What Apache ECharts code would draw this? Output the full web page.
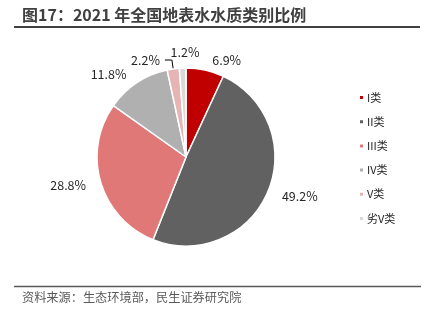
<!DOCTYPE html>
<html>
<head>
<meta charset="utf-8">
<script src="https://cdn.jsdelivr.net/npm/echarts@6/dist/echarts.min.js"></script>
<style>
  html, body { margin: 0; padding: 0; background: #fff; }
  #chart { width: 427px; height: 322px; }
</style>
</head>
<body>
<div id="chart"></div>
<script>
// Water quality categories and their shares (%)
const categories = ['I类', 'II类', 'III类', 'IV类', 'V类', '劣V类'];
const shares = [6.9, 49.2, 28.8, 11.8, 2.2, 1.2];
const colors = ['#C00000', '#616161', '#E07878', '#B0B0B0', '#E6B4B4', '#D9D9D9'];

const FONT = '"Noto Sans CJK SC", "Noto Sans", sans-serif';

const pieData = categories.map((name, i) => {
  const item = { name: name, value: shares[i], itemStyle: { color: colors[i] } };
  if (name === 'V类') {
    // small slice: pulled-out label with a visible leader line
    item.labelLine = { show: true, length: 9, length2: 7 };
  } else if (name === '劣V类') {
    item.labelLine = { show: false, length: 6, length2: 0 };
  }
  return item;
});

const chart = echarts.init(document.getElementById('chart'), null, { renderer: 'canvas' });
chart.setOption({
  animation: false,
  textStyle: { fontFamily: FONT },
  graphic: [
    {
      type: 'text', left: 22, top: 7,
      style: { text: '图17：2021 年全国地表水水质类别比例', fill: '#404040', font: 'bold 16px ' + FONT }
    },
    {
      type: 'line', shape: { x1: 14, y1: 27, x2: 420, y2: 27 },
      style: { stroke: '#404040', lineWidth: 2 }
    },
    {
      type: 'line', shape: { x1: 14, y1: 286.5, x2: 421, y2: 286.5 },
      style: { stroke: '#595959', lineWidth: 1.5 }
    },
    {
      type: 'text', left: 22, top: 291,
      style: { text: '资料来源：生态环境部，民生证券研究院', fill: '#595959', font: '12.2px ' + FONT }
    }
  ],
  legend: {
    orient: 'vertical',
    left: 353,
    top: 87,
    itemGap: 13.2,
    itemWidth: 5,
    itemHeight: 5,
    icon: 'rect',
    data: categories,
    textStyle: { fontSize: 11, color: '#262626', fontFamily: FONT, padding: [0, 0, 0, -2] }
  },
  series: [{
    type: 'pie',
    center: [186, 157],
    radius: [0, 89],
    startAngle: 90,
    clockwise: true,
    avoidLabelOverlap: false,
    data: pieData,
    itemStyle: { borderColor: '#fff', borderWidth: 1.5 },
    label: {
      show: true,
      position: 'outside',
      formatter: p => p.value.toFixed(1) + '%',
      fontSize: 12.5,
      color: '#262626',
      fontFamily: FONT
    },
    labelLine: { show: false, length: 10, length2: 0, lineStyle: { color: '#000', width: 1 } },
    // the thinnest slice's label sits centred above it
    labelLayout: p => (p.dataIndex === categories.length - 1 ? { dx: 22, dy: -10 } : {})
  }]
});
</script>
</body>
</html>
